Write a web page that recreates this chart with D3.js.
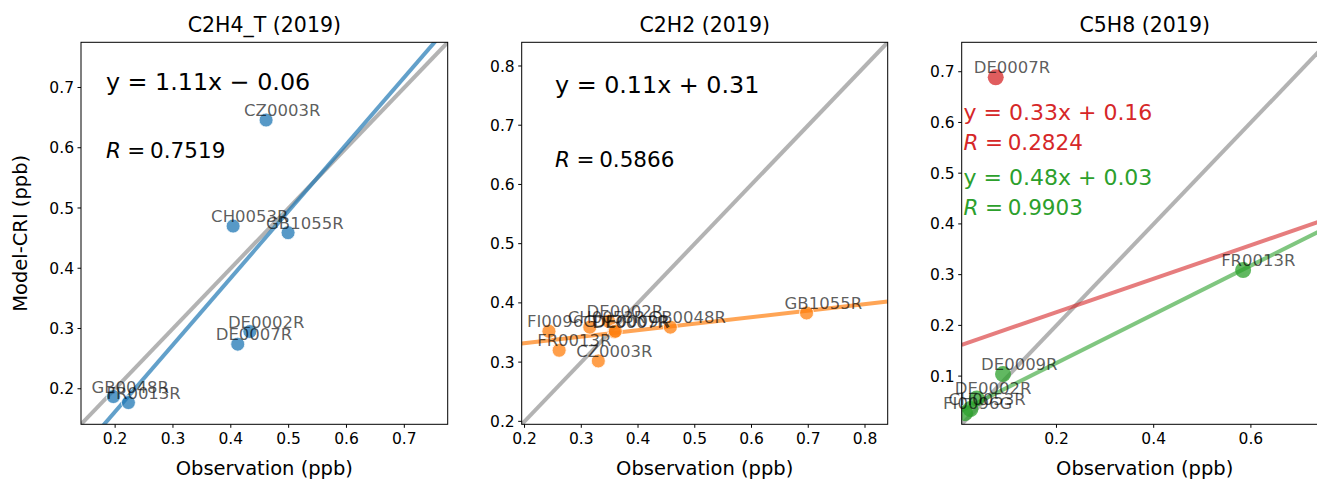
<!DOCTYPE html>
<html>
<head>
<meta charset="utf-8">
<script src="https://cdn.jsdelivr.net/npm/d3@7"></script>
<style>
    body { margin: 0; background: #fff; }
    svg text { font-family: "DejaVu Sans", sans-serif; }
</style>
</head>
<body>
<svg id="chart" width="1317" height="481"></svg>
<script>
// ---- data ----
// C2H4_T (2019)
const c2h4Sites = ["CZ0003R", "CH0053R", "GB1055R", "DE0002R", "DE0007R", "GB0048R", "FR0013R"];
const c2h4Obs   = [0.461, 0.404, 0.499, 0.433, 0.412, 0.197, 0.223];
const c2h4Model = [0.646, 0.470, 0.459, 0.295, 0.274, 0.187, 0.177];
const c2h4Fit   = [1.11, -0.06];   // slope, intercept
const c2h4Text  = ["y = 1.11x − 0.06", "0.7519"];

// C2H2 (2019)
const c2h2Sites = ["FI0096G", "FR0013R", "CZ0003R", "CH0053R", "DE0002R", "DE0007R", "DE0009R", "GB0048R", "GB1055R"];
const c2h2Obs   = [0.243, 0.261, 0.330, 0.315, 0.348, 0.358, 0.360, 0.457, 0.697];
const c2h2Model = [0.352, 0.320, 0.302, 0.359, 0.369, 0.351, 0.352, 0.359, 0.383];
const c2h2Fit   = [0.11, 0.31];
const c2h2Text  = ["y = 0.11x + 0.31", "0.5866"];

// C5H8 (2019): red = all sites, green = without DE0007R
const c5h8RedSites   = ["DE0007R"];
const c5h8RedObs     = [0.075];
const c5h8RedModel   = [0.689];
const c5h8GreenSites = ["FR0013R", "DE0009R", "DE0002R", "CH0053R", "FI0096G"];
const c5h8GreenObs   = [0.584, 0.090, 0.036, 0.023, 0.012];
const c5h8GreenModel = [0.309, 0.104, 0.056, 0.035, 0.027];
const c5h8RedFit     = [0.33, 0.16];
const c5h8GreenFit   = [0.48, 0.03];
const c5h8RedText    = ["y = 0.33x + 0.16", "0.2824"];
const c5h8GreenText  = ["y = 0.48x + 0.03", "0.9903"];

// axis limits and ticks
const c2h4Domain = [0.141, 0.775];
const c2h2Domain = [0.195, 0.840];
const c5h8Domain = [0.005, 0.758];
const c2h4Ticks  = [0.2, 0.3, 0.4, 0.5, 0.6, 0.7];
const c2h2Ticks  = [0.2, 0.3, 0.4, 0.5, 0.6, 0.7, 0.8];
const c5h8XTicks = [0.2, 0.4, 0.6];
const c5h8YTicks = [0.1, 0.2, 0.3, 0.4, 0.5, 0.6, 0.7];

const svg = d3.select("#chart");
const axTop = 42.3, axBottom = 424.3;
const fmt = d3.format(".1f");

function drawPanel(cfg) {
    const x = d3.scaleLinear().domain(cfg.domain).range([cfg.left, cfg.left + cfg.width]);
    const y = d3.scaleLinear().domain(cfg.domain).range([axBottom, axTop]);
    const g = svg.append("g");

    // clip to the axes box
    g.append("clipPath").attr("id", cfg.id)
        .append("rect")
        .attr("x", cfg.left).attr("y", axTop)
        .attr("width", cfg.width).attr("height", axBottom - axTop);
    const plot = g.append("g").attr("clip-path", `url(#${cfg.id})`);

    // 1:1 line
    plot.append("line")
        .attr("x1", x(cfg.domain[0])).attr("y1", y(cfg.domain[0]))
        .attr("x2", x(cfg.domain[1])).attr("y2", y(cfg.domain[1]))
        .attr("stroke", "#808080").attr("stroke-opacity", 0.6)
        .attr("stroke-width", 4);

    // regression lines
    cfg.series.forEach(s => {
        const [a, b] = s.fit;
        plot.append("line")
            .attr("x1", x(cfg.domain[0])).attr("y1", y(a * cfg.domain[0] + b))
            .attr("x2", x(cfg.domain[1])).attr("y2", y(a * cfg.domain[1] + b))
            .attr("stroke", s.color).attr("stroke-opacity", s.lineOpacity)
            .attr("stroke-width", 4);
    });

    // points
    cfg.series.forEach(s => {
        plot.selectAll(null)
            .data(s.obs.map((v, i) => ({ obs: v, model: s.model[i] })))
            .enter()
            .append("circle")
            .attr("cx", d => x(d.obs))
            .attr("cy", d => y(d.model))
            .attr("r", s.r)
            .attr("fill", s.color)
            .attr("fill-opacity", 0.75)
            .attr("stroke", s.edge)
            .attr("stroke-width", 0.8);
    });

    // site labels (not clipped)
    cfg.series.forEach(s => {
        g.selectAll(null)
            .data(s.sites.map((name, i) => ({ name, obs: s.obs[i], model: s.model[i] })))
            .enter()
            .append("text")
            .attr("x", d => x(d.obs) - 22)
            .attr("y", d => y(d.model) - 4)
            .attr("font-size", 16.5)
            .attr("fill", "#000")
            .attr("fill-opacity", 0.65)
            .text(d => d.name);
    });

    // equation / R text
    cfg.notes.forEach(n => {
        const tx = cfg.left + n.fx * cfg.width;
        g.append("text")
            .attr("x", tx).attr("y", axTop + n.fy1 * (axBottom - axTop))
            .attr("font-size", n.size).attr("fill", n.color)
            .text(n.text[0]);
        const r = g.append("text")
            .attr("x", tx).attr("y", axTop + n.fy2 * (axBottom - axTop))
            .attr("font-size", n.rSize).attr("fill", n.color);
        r.append("tspan").attr("font-style", "italic").text("R");
        r.append("tspan").attr("dx", n.rSize * 0.3).text("=");
        r.append("tspan").attr("dx", n.rSize * 0.22).text(n.text[1]);
    });

    // spines
    g.append("rect")
        .attr("x", cfg.left).attr("y", axTop)
        .attr("width", cfg.width).attr("height", axBottom - axTop)
        .attr("fill", "none").attr("stroke", "#000").attr("stroke-width", 1);

    // x ticks
    const xt = g.selectAll(null).data(cfg.xTicks).enter().append("g");
    xt.append("line")
        .attr("x1", d => x(d)).attr("x2", d => x(d))
        .attr("y1", axBottom).attr("y2", axBottom + 3.5)
        .attr("stroke", "#000");
    xt.append("text")
        .attr("x", d => x(d)).attr("y", axBottom + 19.5)
        .attr("text-anchor", "middle").attr("font-size", 15.5)
        .text(fmt);

    // y ticks
    const yt = g.selectAll(null).data(cfg.yTicks).enter().append("g");
    yt.append("line")
        .attr("x1", cfg.left - 3.5).attr("x2", cfg.left)
        .attr("y1", d => y(d)).attr("y2", d => y(d))
        .attr("stroke", "#000");
    yt.append("text")
        .attr("x", cfg.left - 7).attr("y", d => y(d))
        .attr("dy", "0.36em")
        .attr("text-anchor", "end").attr("font-size", 15.5)
        .text(fmt);

    // title and x label
    const cx = cfg.left + cfg.width / 2;
    g.append("text")
        .attr("x", cx).attr("y", 32)
        .attr("text-anchor", "middle").attr("font-size", 20.5)
        .text(cfg.title);
    g.append("text")
        .attr("x", cx).attr("y", 475)
        .attr("text-anchor", "middle").attr("font-size", 19.5)
        .text("Observation (ppb)");
}

drawPanel({
    id: "clip1", left: 81, width: 366.7, domain: c2h4Domain,
    xTicks: c2h4Ticks, yTicks: c2h4Ticks, title: "C2H4_T (2019)",
    series: [{ sites: c2h4Sites, obs: c2h4Obs, model: c2h4Model, fit: c2h4Fit,
               color: "#1f77b4", lineOpacity: 0.7, r: 7, edge: "#fff" }],
    notes: [{ text: c2h4Text, fx: 0.068, fy1: 0.125, fy2: 0.303, size: 23.8, rSize: 21.5, color: "#000" }]
});

drawPanel({
    id: "clip2", left: 521.7, width: 366, domain: c2h2Domain,
    xTicks: c2h2Ticks, yTicks: c2h2Ticks, title: "C2H2 (2019)",
    series: [{ sites: c2h2Sites, obs: c2h2Obs, model: c2h2Model, fit: c2h2Fit,
               color: "#ff7f0e", lineOpacity: 0.7, r: 7, edge: "#fff" }],
    notes: [{ text: c2h2Text, fx: 0.091, fy1: 0.133, fy2: 0.326, size: 23.8, rSize: 21.5, color: "#000" }]
});

drawPanel({
    id: "clip3", left: 961.7, width: 366, domain: c5h8Domain,
    xTicks: c5h8XTicks, yTicks: c5h8YTicks, title: "C5H8 (2019)",
    series: [
        { sites: c5h8RedSites, obs: c5h8RedObs, model: c5h8RedModel, fit: c5h8RedFit,
          color: "#d62728", lineOpacity: 0.6, r: 8, edge: "none" },
        { sites: c5h8GreenSites, obs: c5h8GreenObs, model: c5h8GreenModel, fit: c5h8GreenFit,
          color: "#2ca02c", lineOpacity: 0.6, r: 8, edge: "none" }
    ],
    notes: [
        { text: c5h8RedText, fx: 0.005, fy1: 0.203, fy2: 0.282, size: 22, rSize: 21.5, color: "#d62728" },
        { text: c5h8GreenText, fx: 0.005, fy1: 0.373, fy2: 0.452, size: 22, rSize: 21.5, color: "#2ca02c" }
    ]
});

// shared y label
svg.append("text")
    .attr("transform", `translate(27, ${(axTop + axBottom) / 2}) rotate(-90)`)
    .attr("text-anchor", "middle").attr("font-size", 19.5)
    .text("Model-CRI (ppb)");
</script>
</body>
</html>
